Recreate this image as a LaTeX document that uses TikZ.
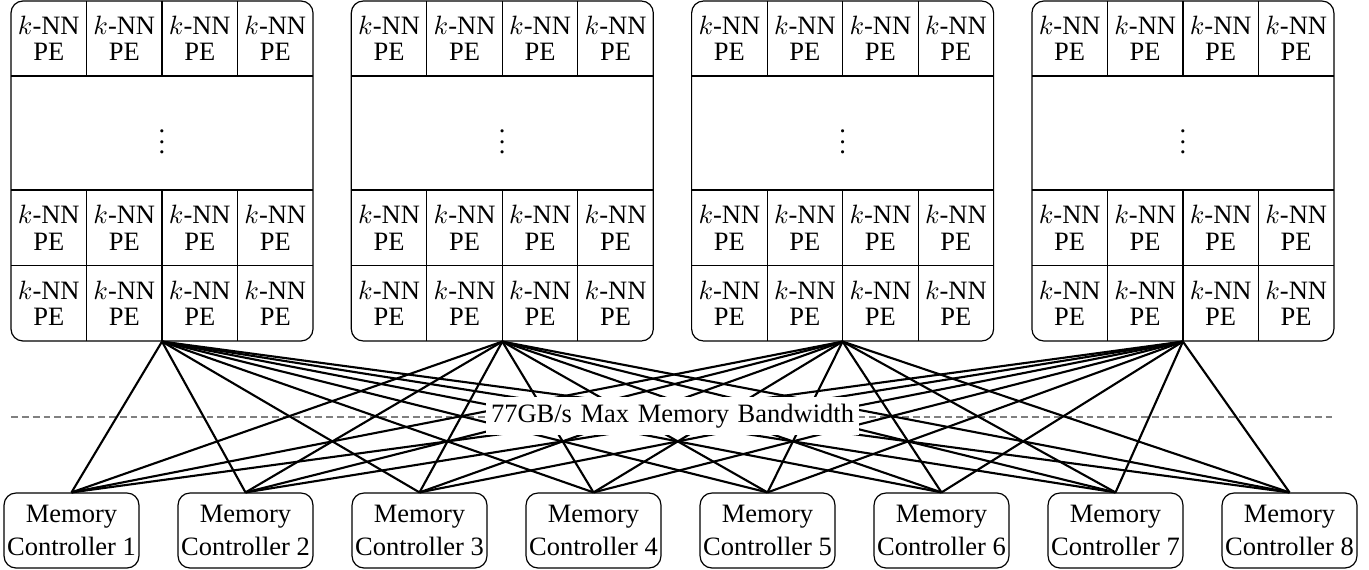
\documentclass[tikz,border=0pt]{standalone}
\usepackage{fontspec}
\setmainfont{Liberation Serif}
\begin{document}
\begin{tikzpicture}[x=0.3774pt,y=-0.3774pt,
  blk/.style={draw, line width=0.45pt, rounded corners=4.5pt, minimum width=113.97pt, minimum height=128.3pt, inner sep=0pt},
  cellline/.style={line width=0.45pt},
  pe/.style={align=center, inner sep=0pt, font=\fontsize{10}{10}\selectfont},
  ctrl/.style={draw, line width=0.45pt, rounded corners=4.5pt, minimum width=50.9pt, minimum height=28.3pt, inner sep=0.5pt, align=center, font=\fontsize{10}{12.2}\selectfont},
  conn/.style={line width=0.8pt},
  dashline/.style={gray, line width=0.45pt, dash pattern=on 2.6pt off 1.5pt},
  lbl/.style={fill=white, inner xsep=2pt, inner ysep=2.6pt, font=\fontsize{10}{12}\selectfont}
]
\useasboundingbox (0,0) rectangle (1369,570);

% dashed level line
\coordinate (DL) at (11,417);
\coordinate (DR) at (1334,417);
\draw[dashline] (DL) -- (DR);

% PE blocks
\foreach \i in {0,...,3}{
  \pgfmathsetmacro\L{11+340.3*\i}
  \node[blk] (B\i) at (\L+151,171) {};
  \draw[cellline] (\L,76) -- (\L+302,76);
  \draw[cellline] (\L,190) -- (\L+302,190);
  \draw[cellline] (\L,265.5) -- (\L+302,265.5);
  \foreach \k in {1,2,3}{
    \draw[cellline] (\L+75.5*\k,1) -- (\L+75.5*\k,76);
    \draw[cellline] (\L+75.5*\k,190) -- (\L+75.5*\k,341);
  }
  \foreach \k in {0,1,2,3}{
    \node[pe] (B\i-a\k) at (\L+37.75+75.5*\k,38.5) {$k$-NN\\PE};
    \node[pe] (B\i-b\k) at (\L+37.75+75.5*\k,227.75) {$k$-NN\\PE};
    \node[pe] (B\i-c\k) at (\L+37.75+75.5*\k,303.25) {$k$-NN\\PE};
  }
  \node (B\i-dots) at (\L+151,134) {$\vdots$};
}

% memory controllers
\foreach \j in {1,...,8}{
  \node[ctrl] (C\j) at (71.5+174*\j-174,530.5) {Memory\\Controller \j};
}

% connectors
\foreach \i in {0,...,3}{
  \foreach \j in {1,...,8}{
    \draw[conn] (B\i.south) -- (C\j.north);
  }
}

% bandwidth label
\node[lbl] (BW) at (672.5,416) {\hbox to 137pt{77GB/s Max Memory Bandwidth}};
\end{tikzpicture}
\end{document}
